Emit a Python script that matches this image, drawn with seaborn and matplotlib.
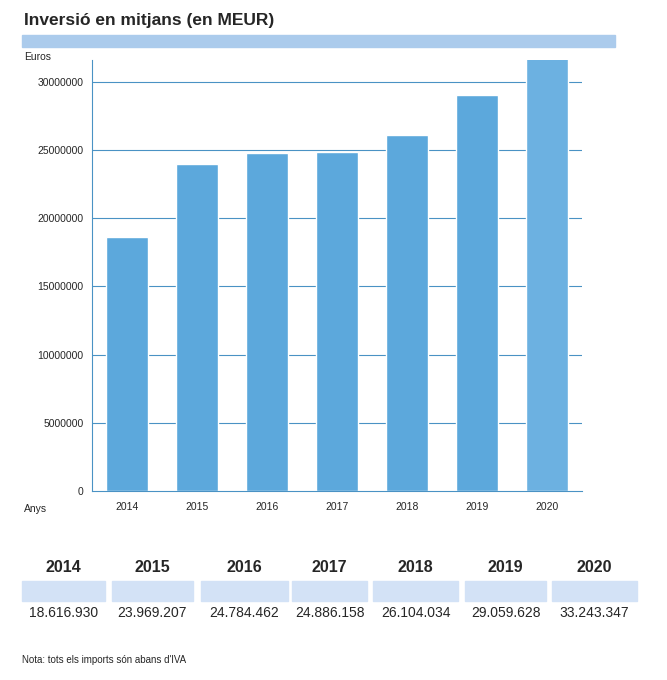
import matplotlib.pyplot as plt
import matplotlib.patches as mpatches
import seaborn as sns

years = ['2014', '2015', '2016', '2017', '2018', '2019', '2020']
values = [18616930, 23969207, 24784462, 24886158, 26104034, 29059628, 33243347]
value_labels = ['18.616.930', '23.969.207', '24.784.462', '24.886.158',
                '26.104.034', '29.059.628', '33.243.347']
yticks = [0, 5000000, 10000000, 15000000, 20000000, 25000000, 30000000]

W, H = 667, 680
fig = plt.figure(figsize=(W / 100, H / 100), dpi=100)
sns.set_style('white')
plt.rcParams['font.family'] = ['Liberation Sans', 'DejaVu Sans']

def px(x, y):
    return x / W, 1 - y / H

ax = fig.add_axes([92 / W, 1 - 491 / H, 490 / W, (491 - 60) / H])
grid_c = '#4a92c4'
palette = ['#5ca8dc'] * 6 + ['#6cb1e1']
sns.barplot(x=years, y=values, hue=years, palette=palette, width=0.6,
            legend=False, ax=ax, zorder=2, saturation=1)
ax.set_ylim(0, 31600000)
ax.set_yticks(yticks)
ax.set_yticklabels([str(v) for v in yticks], fontsize=7.5)
ax.tick_params(axis='x', labelsize=7.5, length=0, pad=8)
ax.tick_params(axis='y', length=0, pad=6)
for t in yticks[1:]:
    ax.axhline(t, color=grid_c, lw=0.8, zorder=1)
for s in ['top', 'right']:
    ax.spines[s].set_visible(False)
for s in ['left', 'bottom']:
    ax.spines[s].set_color(grid_c)
    ax.spines[s].set_linewidth(0.8)
ax.set_xlabel('')
ax.set_ylabel('')

fig.text(*px(24, 21), 'Inversió en mitjans (en MEUR)', fontsize=12.5,
         fontweight='bold', va='center', ha='left')
fig.patches.append(mpatches.Rectangle(px(22, 47), 593 / W, 12 / H,
                                      transform=fig.transFigure,
                                      color='#abcbec', zorder=0))
fig.text(*px(24, 57), 'Euros', fontsize=7.5, va='center')
fig.text(*px(24, 509), 'Anys', fontsize=7.5, va='center')

cols = [(22, 105), (112, 193), (201, 288), (292, 367), (373, 458),
        (465, 546), (552, 637)]
for (x0, x1), yr, lab in zip(cols, years, value_labels):
    cx = (x0 + x1) / 2
    fig.text(*px(cx, 567), yr, fontsize=11.5, fontweight='bold',
             ha='center', va='center')
    fig.patches.append(mpatches.Rectangle(px(x0, 601), (x1 - x0) / W, 20 / H,
                                          transform=fig.transFigure,
                                          color='#d3e2f6', zorder=0))
    fig.text(*px(cx, 613), lab, fontsize=10, ha='center', va='center')

fig.text(*px(22, 660), "Nota: tots els imports són abans d'IVA", fontsize=7,
         va='center')

fig.savefig('out.png', dpi=100)
